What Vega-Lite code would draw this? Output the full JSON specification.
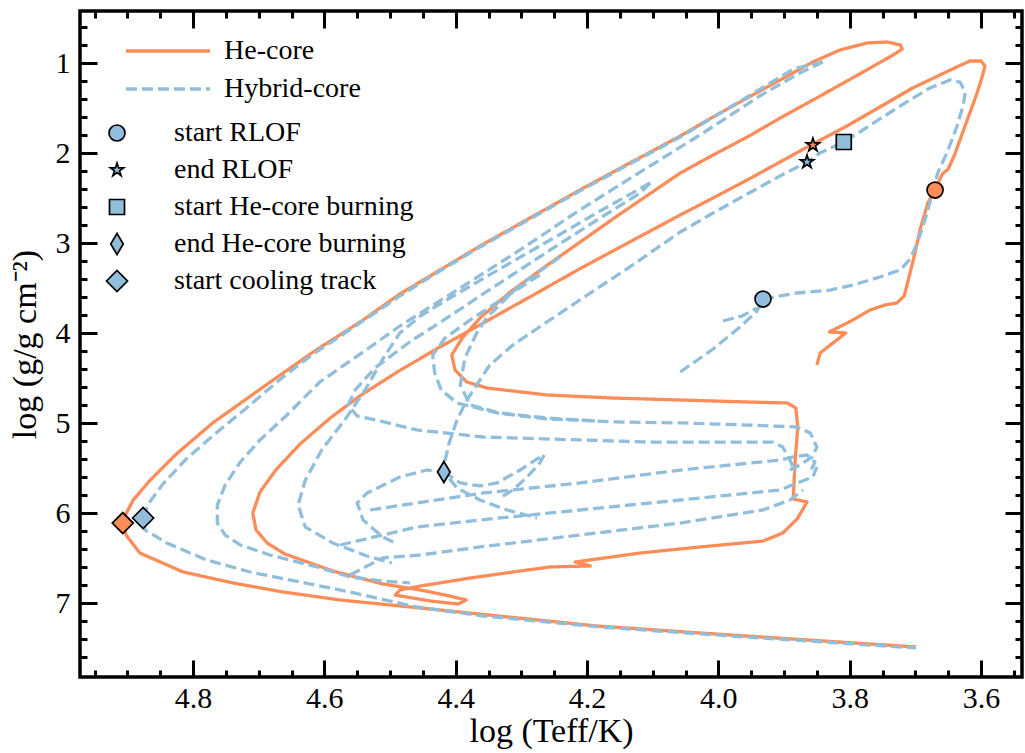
{
"$schema": "https://vega.github.io/schema/vega-lite/v6.json",
"width": 942, "height": 666,
"autosize": {"type": "none"},
"padding": {"left": 80, "top": 11, "right": 3, "bottom": 76},
"background": "white",
"config": {
  "view": {"stroke": "black", "strokeWidth": 3.5},
  "font": "Liberation Serif",
  "axis": {"grid": false, "domain": false, "labelColor": "black", "titleColor": "black", "labelFont": "Liberation Serif", "titleFont": "Liberation Serif", "titleFontWeight": "normal", "labelFlush": false, "labelOverlap": false, "tickColor": "black"},
  "legend": {"labelFont": "Liberation Serif", "labelColor": "black", "labelFontSize": 28, "labelLimit": 600, "padding": 0}
},
"datasets": {
"he": [
{"model":"He-core","seg":"o","i":1,"logT":3.850,"logg":4.350},
{"model":"He-core","seg":"o","i":2,"logT":3.845,"logg":4.217},
{"model":"He-core","seg":"o","i":3,"logT":3.806,"logg":3.994},
{"model":"He-core","seg":"o","i":4,"logT":3.831,"logg":3.983},
{"model":"He-core","seg":"o","i":5,"logT":3.795,"logg":3.850},
{"model":"He-core","seg":"o","i":6,"logT":3.769,"logg":3.739},
{"model":"He-core","seg":"o","i":7,"logT":3.746,"logg":3.683},
{"model":"He-core","seg":"o","i":8,"logT":3.728,"logg":3.661},
{"model":"He-core","seg":"o","i":9,"logT":3.717,"logg":3.583},
{"model":"He-core","seg":"o","i":10,"logT":3.710,"logg":3.383},
{"model":"He-core","seg":"o","i":11,"logT":3.702,"logg":3.150},
{"model":"He-core","seg":"o","i":12,"logT":3.693,"logg":2.850},
{"model":"He-core","seg":"o","i":13,"logT":3.681,"logg":2.550},
{"model":"He-core","seg":"o","i":14,"logT":3.670,"logg":2.406},
{"model":"He-core","seg":"o","i":15,"logT":3.659,"logg":2.228},
{"model":"He-core","seg":"o","i":16,"logT":3.650,"logg":2.172},
{"model":"He-core","seg":"o","i":17,"logT":3.641,"logg":2.028},
{"model":"He-core","seg":"o","i":18,"logT":3.621,"logg":1.628},
{"model":"He-core","seg":"o","i":19,"logT":3.606,"logg":1.328},
{"model":"He-core","seg":"o","i":20,"logT":3.597,"logg":1.117},
{"model":"He-core","seg":"o","i":21,"logT":3.594,"logg":1.028},
{"model":"He-core","seg":"o","i":22,"logT":3.600,"logg":0.972},
{"model":"He-core","seg":"o","i":23,"logT":3.617,"logg":0.972},
{"model":"He-core","seg":"o","i":24,"logT":3.637,"logg":1.039},
{"model":"He-core","seg":"o","i":25,"logT":3.704,"logg":1.272},
{"model":"He-core","seg":"o","i":26,"logT":3.754,"logg":1.483},
{"model":"He-core","seg":"o","i":27,"logT":3.804,"logg":1.694},
{"model":"He-core","seg":"o","i":28,"logT":3.856,"logg":1.894},
{"model":"He-core","seg":"o","i":29,"logT":3.906,"logg":2.094},
{"model":"He-core","seg":"o","i":30,"logT":3.956,"logg":2.294},
{"model":"He-core","seg":"o","i":31,"logT":4.008,"logg":2.494},
{"model":"He-core","seg":"o","i":32,"logT":4.058,"logg":2.683},
{"model":"He-core","seg":"o","i":33,"logT":4.135,"logg":2.983},
{"model":"He-core","seg":"o","i":34,"logT":4.206,"logg":3.261},
{"model":"He-core","seg":"o","i":35,"logT":4.287,"logg":3.594},
{"model":"He-core","seg":"o","i":36,"logT":4.358,"logg":3.883},
{"model":"He-core","seg":"o","i":37,"logT":4.424,"logg":4.150},
{"model":"He-core","seg":"o","i":38,"logT":4.489,"logg":4.428},
{"model":"He-core","seg":"o","i":39,"logT":4.546,"logg":4.694},
{"model":"He-core","seg":"o","i":40,"logT":4.591,"logg":4.939},
{"model":"He-core","seg":"o","i":41,"logT":4.637,"logg":5.228},
{"model":"He-core","seg":"o","i":42,"logT":4.674,"logg":5.517},
{"model":"He-core","seg":"o","i":43,"logT":4.698,"logg":5.761},
{"model":"He-core","seg":"o","i":44,"logT":4.709,"logg":5.994},
{"model":"He-core","seg":"o","i":45,"logT":4.704,"logg":6.183},
{"model":"He-core","seg":"o","i":46,"logT":4.687,"logg":6.328},
{"model":"He-core","seg":"o","i":47,"logT":4.660,"logg":6.450},
{"model":"He-core","seg":"o","i":48,"logT":4.587,"logg":6.639},
{"model":"He-core","seg":"o","i":49,"logT":4.511,"logg":6.783},
{"model":"He-core","seg":"o","i":50,"logT":4.454,"logg":6.850},
{"model":"He-core","seg":"o","i":51,"logT":4.409,"logg":6.917},
{"model":"He-core","seg":"o","i":52,"logT":4.384,"logg":6.961},
{"model":"He-core","seg":"o","i":53,"logT":4.396,"logg":7.006},
{"model":"He-core","seg":"o","i":54,"logT":4.439,"logg":6.972},
{"model":"He-core","seg":"o","i":55,"logT":4.492,"logg":6.906},
{"model":"He-core","seg":"o","i":56,"logT":4.485,"logg":6.850},
{"model":"He-core","seg":"o","i":57,"logT":4.454,"logg":6.806},
{"model":"He-core","seg":"o","i":58,"logT":4.378,"logg":6.717},
{"model":"He-core","seg":"o","i":59,"logT":4.302,"logg":6.639},
{"model":"He-core","seg":"o","i":60,"logT":4.256,"logg":6.594},
{"model":"He-core","seg":"o","i":61,"logT":4.195,"logg":6.583},
{"model":"He-core","seg":"o","i":62,"logT":4.218,"logg":6.539},
{"model":"He-core","seg":"o","i":63,"logT":4.119,"logg":6.439},
{"model":"He-core","seg":"o","i":64,"logT":4.028,"logg":6.372},
{"model":"He-core","seg":"o","i":65,"logT":3.932,"logg":6.306},
{"model":"He-core","seg":"o","i":66,"logT":3.902,"logg":6.217},
{"model":"He-core","seg":"o","i":67,"logT":3.880,"logg":6.061},
{"model":"He-core","seg":"o","i":68,"logT":3.865,"logg":5.872},
{"model":"He-core","seg":"o","i":69,"logT":3.886,"logg":5.839},
{"model":"He-core","seg":"o","i":70,"logT":3.883,"logg":5.406},
{"model":"He-core","seg":"o","i":71,"logT":3.879,"logg":5.039},
{"model":"He-core","seg":"o","i":72,"logT":3.882,"logg":4.828},
{"model":"He-core","seg":"o","i":73,"logT":3.895,"logg":4.772},
{"model":"He-core","seg":"o","i":74,"logT":3.956,"logg":4.761},
{"model":"He-core","seg":"o","i":75,"logT":4.058,"logg":4.739},
{"model":"He-core","seg":"o","i":76,"logT":4.160,"logg":4.717},
{"model":"He-core","seg":"o","i":77,"logT":4.261,"logg":4.683},
{"model":"He-core","seg":"o","i":78,"logT":4.352,"logg":4.606},
{"model":"He-core","seg":"o","i":79,"logT":4.383,"logg":4.539},
{"model":"He-core","seg":"o","i":80,"logT":4.401,"logg":4.406},
{"model":"He-core","seg":"o","i":81,"logT":4.406,"logg":4.239},
{"model":"He-core","seg":"o","i":82,"logT":4.390,"logg":4.050},
{"model":"He-core","seg":"o","i":83,"logT":4.363,"logg":3.828},
{"model":"He-core","seg":"o","i":84,"logT":4.317,"logg":3.539},
{"model":"He-core","seg":"o","i":85,"logT":4.256,"logg":3.217},
{"model":"He-core","seg":"o","i":86,"logT":4.154,"logg":2.694},
{"model":"He-core","seg":"o","i":87,"logT":4.058,"logg":2.217},
{"model":"He-core","seg":"o","i":88,"logT":4.008,"logg":2.017},
{"model":"He-core","seg":"o","i":89,"logT":3.956,"logg":1.817},
{"model":"He-core","seg":"o","i":90,"logT":3.906,"logg":1.606},
{"model":"He-core","seg":"o","i":91,"logT":3.856,"logg":1.406},
{"model":"He-core","seg":"o","i":92,"logT":3.815,"logg":1.239},
{"model":"He-core","seg":"o","i":93,"logT":3.774,"logg":1.072},
{"model":"He-core","seg":"o","i":94,"logT":3.734,"logg":0.906},
{"model":"He-core","seg":"o","i":95,"logT":3.720,"logg":0.839},
{"model":"He-core","seg":"o","i":96,"logT":3.723,"logg":0.794},
{"model":"He-core","seg":"o","i":97,"logT":3.743,"logg":0.761},
{"model":"He-core","seg":"o","i":98,"logT":3.774,"logg":0.772},
{"model":"He-core","seg":"o","i":99,"logT":3.815,"logg":0.850},
{"model":"He-core","seg":"o","i":100,"logT":3.856,"logg":0.983},
{"model":"He-core","seg":"o","i":101,"logT":3.906,"logg":1.183},
{"model":"He-core","seg":"o","i":102,"logT":3.956,"logg":1.383},
{"model":"He-core","seg":"o","i":103,"logT":4.008,"logg":1.594},
{"model":"He-core","seg":"o","i":104,"logT":4.058,"logg":1.806},
{"model":"He-core","seg":"o","i":105,"logT":4.135,"logg":2.106},
{"model":"He-core","seg":"o","i":106,"logT":4.211,"logg":2.406},
{"model":"He-core","seg":"o","i":107,"logT":4.287,"logg":2.717},
{"model":"He-core","seg":"o","i":108,"logT":4.363,"logg":3.028},
{"model":"He-core","seg":"o","i":109,"logT":4.439,"logg":3.361},
{"model":"He-core","seg":"o","i":110,"logT":4.485,"logg":3.561},
{"model":"He-core","seg":"o","i":111,"logT":4.541,"logg":3.850},
{"model":"He-core","seg":"o","i":112,"logT":4.617,"logg":4.206},
{"model":"He-core","seg":"o","i":113,"logT":4.693,"logg":4.594},
{"model":"He-core","seg":"o","i":114,"logT":4.770,"logg":4.994},
{"model":"He-core","seg":"o","i":115,"logT":4.827,"logg":5.350},
{"model":"He-core","seg":"o","i":116,"logT":4.865,"logg":5.628},
{"model":"He-core","seg":"o","i":117,"logT":4.891,"logg":5.850},
{"model":"He-core","seg":"o","i":118,"logT":4.907,"logg":6.072},
{"model":"He-core","seg":"o","i":119,"logT":4.902,"logg":6.239},
{"model":"He-core","seg":"o","i":120,"logT":4.881,"logg":6.439},
{"model":"He-core","seg":"o","i":121,"logT":4.815,"logg":6.650},
{"model":"He-core","seg":"o","i":122,"logT":4.739,"logg":6.772},
{"model":"He-core","seg":"o","i":123,"logT":4.663,"logg":6.872},
{"model":"He-core","seg":"o","i":124,"logT":4.576,"logg":6.961},
{"model":"He-core","seg":"o","i":125,"logT":4.454,"logg":7.050},
{"model":"He-core","seg":"o","i":126,"logT":4.320,"logg":7.150},
{"model":"He-core","seg":"o","i":127,"logT":4.185,"logg":7.250},
{"model":"He-core","seg":"o","i":128,"logT":3.982,"logg":7.350},
{"model":"He-core","seg":"o","i":129,"logT":3.699,"logg":7.483}
],
"hyb": [
{"model":"Hybrid-core","seg":"prog","i":1,"logT":4.058,"logg":4.428},
{"model":"Hybrid-core","seg":"prog","i":2,"logT":4.008,"logg":4.172},
{"model":"Hybrid-core","seg":"prog","i":3,"logT":3.967,"logg":3.928},
{"model":"Hybrid-core","seg":"prog","i":4,"logT":3.941,"logg":3.750},
{"model":"Hybrid-core","seg":"prog","i":5,"logT":3.932,"logg":3.617},
{"model":"Hybrid-core","seg":"hook","i":1,"logT":3.993,"logg":3.861},
{"model":"Hybrid-core","seg":"hook","i":2,"logT":3.964,"logg":3.806},
{"model":"Hybrid-core","seg":"hook","i":3,"logT":3.941,"logg":3.717},
{"model":"Hybrid-core","seg":"main","i":1,"logT":3.932,"logg":3.617},
{"model":"Hybrid-core","seg":"main","i":2,"logT":3.880,"logg":3.550},
{"model":"Hybrid-core","seg":"main","i":3,"logT":3.830,"logg":3.517},
{"model":"Hybrid-core","seg":"main","i":4,"logT":3.795,"logg":3.461},
{"model":"Hybrid-core","seg":"main","i":5,"logT":3.754,"logg":3.372},
{"model":"Hybrid-core","seg":"main","i":6,"logT":3.723,"logg":3.294},
{"model":"Hybrid-core","seg":"main","i":7,"logT":3.708,"logg":3.172},
{"model":"Hybrid-core","seg":"main","i":8,"logT":3.697,"logg":2.994},
{"model":"Hybrid-core","seg":"main","i":9,"logT":3.682,"logg":2.661},
{"model":"Hybrid-core","seg":"main","i":10,"logT":3.673,"logg":2.406},
{"model":"Hybrid-core","seg":"main","i":11,"logT":3.666,"logg":2.217},
{"model":"Hybrid-core","seg":"main","i":12,"logT":3.652,"logg":1.994},
{"model":"Hybrid-core","seg":"main","i":13,"logT":3.637,"logg":1.706},
{"model":"Hybrid-core","seg":"main","i":14,"logT":3.627,"logg":1.461},
{"model":"Hybrid-core","seg":"main","i":15,"logT":3.624,"logg":1.317},
{"model":"Hybrid-core","seg":"main","i":16,"logT":3.632,"logg":1.206},
{"model":"Hybrid-core","seg":"main","i":17,"logT":3.647,"logg":1.183},
{"model":"Hybrid-core","seg":"main","i":18,"logT":3.678,"logg":1.272},
{"model":"Hybrid-core","seg":"main","i":19,"logT":3.728,"logg":1.494},
{"model":"Hybrid-core","seg":"main","i":20,"logT":3.780,"logg":1.739},
{"model":"Hybrid-core","seg":"main","i":21,"logT":3.809,"logg":1.872},
{"model":"Hybrid-core","seg":"main","i":22,"logT":3.845,"logg":1.994},
{"model":"Hybrid-core","seg":"main","i":23,"logT":3.865,"logg":2.094},
{"model":"Hybrid-core","seg":"main","i":24,"logT":3.906,"logg":2.250},
{"model":"Hybrid-core","seg":"main","i":25,"logT":3.956,"logg":2.450},
{"model":"Hybrid-core","seg":"main","i":26,"logT":4.008,"logg":2.661},
{"model":"Hybrid-core","seg":"main","i":27,"logT":4.058,"logg":2.872},
{"model":"Hybrid-core","seg":"main","i":28,"logT":4.135,"logg":3.261},
{"model":"Hybrid-core","seg":"main","i":29,"logT":4.211,"logg":3.628},
{"model":"Hybrid-core","seg":"main","i":30,"logT":4.261,"logg":3.872},
{"model":"Hybrid-core","seg":"main","i":31,"logT":4.313,"logg":4.128},
{"model":"Hybrid-core","seg":"main","i":32,"logT":4.348,"logg":4.350},
{"model":"Hybrid-core","seg":"main","i":33,"logT":4.368,"logg":4.572},
{"model":"Hybrid-core","seg":"main","i":34,"logT":4.383,"logg":4.739},
{"model":"Hybrid-core","seg":"main","i":35,"logT":4.398,"logg":4.961},
{"model":"Hybrid-core","seg":"main","i":36,"logT":4.410,"logg":5.217},
{"model":"Hybrid-core","seg":"main","i":37,"logT":4.416,"logg":5.406},
{"model":"Hybrid-core","seg":"main","i":38,"logT":4.418,"logg":5.539},
{"model":"Hybrid-core","seg":"d1","i":1,"logT":4.418,"logg":5.539},
{"model":"Hybrid-core","seg":"d1","i":2,"logT":4.393,"logg":5.661},
{"model":"Hybrid-core","seg":"d1","i":3,"logT":4.363,"logg":5.694},
{"model":"Hybrid-core","seg":"d1","i":4,"logT":4.337,"logg":5.661},
{"model":"Hybrid-core","seg":"d1","i":5,"logT":4.302,"logg":5.517},
{"model":"Hybrid-core","seg":"d1","i":6,"logT":4.276,"logg":5.394},
{"model":"Hybrid-core","seg":"d1","i":7,"logT":4.265,"logg":5.350},
{"model":"Hybrid-core","seg":"d1","i":8,"logT":4.272,"logg":5.439},
{"model":"Hybrid-core","seg":"d1","i":9,"logT":4.291,"logg":5.594},
{"model":"Hybrid-core","seg":"d1","i":10,"logT":4.313,"logg":5.739},
{"model":"Hybrid-core","seg":"d1","i":11,"logT":4.333,"logg":5.828},
{"model":"Hybrid-core","seg":"d2","i":1,"logT":4.495,"logg":6.317},
{"model":"Hybrid-core","seg":"d2","i":2,"logT":4.511,"logg":6.261},
{"model":"Hybrid-core","seg":"d2","i":3,"logT":4.541,"logg":6.072},
{"model":"Hybrid-core","seg":"d2","i":4,"logT":4.550,"logg":5.883},
{"model":"Hybrid-core","seg":"d2","i":5,"logT":4.535,"logg":5.772},
{"model":"Hybrid-core","seg":"d2","i":6,"logT":4.485,"logg":5.594},
{"model":"Hybrid-core","seg":"d2","i":7,"logT":4.444,"logg":5.517},
{"model":"Hybrid-core","seg":"d2","i":8,"logT":4.418,"logg":5.539},
{"model":"Hybrid-core","seg":"d2","i":9,"logT":4.398,"logg":5.717},
{"model":"Hybrid-core","seg":"d2","i":10,"logT":4.363,"logg":5.850},
{"model":"Hybrid-core","seg":"d2","i":11,"logT":4.322,"logg":5.961},
{"model":"Hybrid-core","seg":"d2","i":12,"logT":4.276,"logg":6.050},
{"model":"Hybrid-core","seg":"outer","i":1,"logT":3.841,"logg":0.983},
{"model":"Hybrid-core","seg":"outer","i":2,"logT":3.886,"logg":1.061},
{"model":"Hybrid-core","seg":"outer","i":3,"logT":3.956,"logg":1.372},
{"model":"Hybrid-core","seg":"outer","i":4,"logT":4.058,"logg":1.817},
{"model":"Hybrid-core","seg":"outer","i":5,"logT":4.135,"logg":2.117},
{"model":"Hybrid-core","seg":"outer","i":6,"logT":4.211,"logg":2.417},
{"model":"Hybrid-core","seg":"outer","i":7,"logT":4.287,"logg":2.728},
{"model":"Hybrid-core","seg":"outer","i":8,"logT":4.363,"logg":3.039},
{"model":"Hybrid-core","seg":"outer","i":9,"logT":4.439,"logg":3.372},
{"model":"Hybrid-core","seg":"outer","i":10,"logT":4.485,"logg":3.583},
{"model":"Hybrid-core","seg":"outer","i":11,"logT":4.541,"logg":3.861},
{"model":"Hybrid-core","seg":"outer","i":12,"logT":4.617,"logg":4.228},
{"model":"Hybrid-core","seg":"outer","i":13,"logT":4.663,"logg":4.483},
{"model":"Hybrid-core","seg":"outer","i":14,"logT":4.713,"logg":4.794},
{"model":"Hybrid-core","seg":"outer","i":15,"logT":4.763,"logg":5.094},
{"model":"Hybrid-core","seg":"outer","i":16,"logT":4.812,"logg":5.406},
{"model":"Hybrid-core","seg":"outer","i":17,"logT":4.847,"logg":5.683},
{"model":"Hybrid-core","seg":"outer","i":18,"logT":4.867,"logg":5.883},
{"model":"Hybrid-core","seg":"outer","i":19,"logT":4.876,"logg":6.039},
{"model":"Hybrid-core","seg":"outer","i":20,"logT":4.873,"logg":6.183},
{"model":"Hybrid-core","seg":"outer","i":21,"logT":4.840,"logg":6.328},
{"model":"Hybrid-core","seg":"outer","i":22,"logT":4.779,"logg":6.517},
{"model":"Hybrid-core","seg":"outer","i":23,"logT":4.713,"logg":6.650},
{"model":"Hybrid-core","seg":"outer","i":24,"logT":4.637,"logg":6.761},
{"model":"Hybrid-core","seg":"outer","i":25,"logT":4.561,"logg":6.872},
{"model":"Hybrid-core","seg":"outer","i":26,"logT":4.459,"logg":7.039},
{"model":"Hybrid-core","seg":"outer","i":27,"logT":4.358,"logg":7.139},
{"model":"Hybrid-core","seg":"outer","i":28,"logT":4.180,"logg":7.261},
{"model":"Hybrid-core","seg":"outer","i":29,"logT":3.982,"logg":7.361},
{"model":"Hybrid-core","seg":"outer","i":30,"logT":3.699,"logg":7.494},
{"model":"Hybrid-core","seg":"tl","i":1,"logT":3.841,"logg":0.983},
{"model":"Hybrid-core","seg":"tl","i":2,"logT":3.876,"logg":1.106},
{"model":"Hybrid-core","seg":"tl","i":3,"logT":3.937,"logg":1.361},
{"model":"Hybrid-core","seg":"tl","i":4,"logT":4.028,"logg":1.794},
{"model":"Hybrid-core","seg":"tl","i":5,"logT":4.119,"logg":2.206},
{"model":"Hybrid-core","seg":"tl","i":6,"logT":4.211,"logg":2.628},
{"model":"Hybrid-core","seg":"tl","i":7,"logT":4.302,"logg":3.072},
{"model":"Hybrid-core","seg":"tl","i":8,"logT":4.393,"logg":3.494},
{"model":"Hybrid-core","seg":"tl","i":9,"logT":4.485,"logg":3.917},
{"model":"Hybrid-core","seg":"tl","i":10,"logT":4.541,"logg":4.206},
{"model":"Hybrid-core","seg":"tl","i":11,"logT":4.607,"logg":4.539},
{"model":"Hybrid-core","seg":"tl","i":12,"logT":4.657,"logg":4.906},
{"model":"Hybrid-core","seg":"tl","i":13,"logT":4.698,"logg":5.183},
{"model":"Hybrid-core","seg":"tl","i":14,"logT":4.728,"logg":5.428},
{"model":"Hybrid-core","seg":"tl","i":15,"logT":4.751,"logg":5.683},
{"model":"Hybrid-core","seg":"tl","i":16,"logT":4.763,"logg":5.906},
{"model":"Hybrid-core","seg":"tl","i":17,"logT":4.763,"logg":6.106},
{"model":"Hybrid-core","seg":"tl","i":18,"logT":4.751,"logg":6.239},
{"model":"Hybrid-core","seg":"tl","i":19,"logT":4.728,"logg":6.350},
{"model":"Hybrid-core","seg":"tl","i":20,"logT":4.683,"logg":6.461},
{"model":"Hybrid-core","seg":"tl","i":21,"logT":4.611,"logg":6.594},
{"model":"Hybrid-core","seg":"tl","i":22,"logT":4.561,"logg":6.706},
{"model":"Hybrid-core","seg":"tl","i":23,"logT":4.511,"logg":6.750},
{"model":"Hybrid-core","seg":"tl","i":24,"logT":4.470,"logg":6.772},
{"model":"Hybrid-core","seg":"c3","i":1,"logT":4.104,"logg":2.328},
{"model":"Hybrid-core","seg":"c3","i":2,"logT":4.180,"logg":2.639},
{"model":"Hybrid-core","seg":"c3","i":3,"logT":4.256,"logg":2.961},
{"model":"Hybrid-core","seg":"c3","i":4,"logT":4.333,"logg":3.283},
{"model":"Hybrid-core","seg":"c3","i":5,"logT":4.409,"logg":3.606},
{"model":"Hybrid-core","seg":"c3","i":6,"logT":4.454,"logg":3.806},
{"model":"Hybrid-core","seg":"c3","i":7,"logT":4.485,"logg":3.994},
{"model":"Hybrid-core","seg":"c3","i":8,"logT":4.512,"logg":4.294},
{"model":"Hybrid-core","seg":"c3","i":9,"logT":4.538,"logg":4.628},
{"model":"Hybrid-core","seg":"c3","i":10,"logT":4.569,"logg":4.961},
{"model":"Hybrid-core","seg":"c3","i":11,"logT":4.604,"logg":5.294},
{"model":"Hybrid-core","seg":"c3","i":12,"logT":4.629,"logg":5.628},
{"model":"Hybrid-core","seg":"c3","i":13,"logT":4.640,"logg":5.906},
{"model":"Hybrid-core","seg":"c3","i":14,"logT":4.629,"logg":6.150},
{"model":"Hybrid-core","seg":"c3","i":15,"logT":4.587,"logg":6.328},
{"model":"Hybrid-core","seg":"c3","i":16,"logT":4.535,"logg":6.472},
{"model":"Hybrid-core","seg":"c3","i":17,"logT":4.497,"logg":6.550},
{"model":"Hybrid-core","seg":"j","i":1,"logT":4.104,"logg":2.328},
{"model":"Hybrid-core","seg":"j","i":2,"logT":4.119,"logg":2.439},
{"model":"Hybrid-core","seg":"j","i":3,"logT":4.180,"logg":2.717},
{"model":"Hybrid-core","seg":"j","i":4,"logT":4.256,"logg":3.072},
{"model":"Hybrid-core","seg":"j","i":5,"logT":4.333,"logg":3.439},
{"model":"Hybrid-core","seg":"j","i":6,"logT":4.409,"logg":3.806},
{"model":"Hybrid-core","seg":"j","i":7,"logT":4.470,"logg":4.094},
{"model":"Hybrid-core","seg":"j","i":8,"logT":4.523,"logg":4.383},
{"model":"Hybrid-core","seg":"j","i":9,"logT":4.553,"logg":4.628},
{"model":"Hybrid-core","seg":"j","i":10,"logT":4.564,"logg":4.794},
{"model":"Hybrid-core","seg":"j","i":11,"logT":4.550,"logg":4.917},
{"model":"Hybrid-core","seg":"j","i":12,"logT":4.515,"logg":4.972},
{"model":"Hybrid-core","seg":"j","i":13,"logT":4.459,"logg":5.072},
{"model":"Hybrid-core","seg":"j","i":14,"logT":4.358,"logg":5.150},
{"model":"Hybrid-core","seg":"j","i":15,"logT":4.211,"logg":5.183},
{"model":"Hybrid-core","seg":"j","i":16,"logT":4.109,"logg":5.206},
{"model":"Hybrid-core","seg":"j","i":17,"logT":4.008,"logg":5.206},
{"model":"Hybrid-core","seg":"j","i":18,"logT":3.917,"logg":5.206},
{"model":"Hybrid-core","seg":"j","i":19,"logT":3.902,"logg":5.261},
{"model":"Hybrid-core","seg":"j","i":20,"logT":3.891,"logg":5.406},
{"model":"Hybrid-core","seg":"j","i":21,"logT":3.883,"logg":5.539},
{"model":"Hybrid-core","seg":"l2a","i":1,"logT":4.241,"logg":3.150},
{"model":"Hybrid-core","seg":"l2a","i":2,"logT":4.302,"logg":3.461},
{"model":"Hybrid-core","seg":"l2a","i":3,"logT":4.352,"logg":3.817},
{"model":"Hybrid-core","seg":"l2a","i":4,"logT":4.368,"logg":3.994},
{"model":"Hybrid-core","seg":"l2a","i":5,"logT":4.386,"logg":4.272},
{"model":"Hybrid-core","seg":"l2a","i":6,"logT":4.393,"logg":4.572},
{"model":"Hybrid-core","seg":"l2a","i":7,"logT":4.378,"logg":4.794},
{"model":"Hybrid-core","seg":"l2a","i":8,"logT":4.333,"logg":4.883},
{"model":"Hybrid-core","seg":"l2a","i":9,"logT":4.261,"logg":4.939},
{"model":"Hybrid-core","seg":"l2a","i":10,"logT":4.160,"logg":4.983},
{"model":"Hybrid-core","seg":"l2a","i":11,"logT":4.058,"logg":4.994},
{"model":"Hybrid-core","seg":"l2a","i":12,"logT":3.956,"logg":5.017},
{"model":"Hybrid-core","seg":"l2a","i":13,"logT":3.880,"logg":5.039},
{"model":"Hybrid-core","seg":"l2a","i":14,"logT":3.860,"logg":5.106},
{"model":"Hybrid-core","seg":"l2a","i":15,"logT":3.850,"logg":5.261},
{"model":"Hybrid-core","seg":"l2a","i":16,"logT":3.857,"logg":5.372},
{"model":"Hybrid-core","seg":"l2a","i":17,"logT":3.876,"logg":5.461},
{"model":"Hybrid-core","seg":"l2a","i":18,"logT":3.891,"logg":5.517},
{"model":"Hybrid-core","seg":"l2b","i":1,"logT":4.272,"logg":3.350},
{"model":"Hybrid-core","seg":"l2b","i":2,"logT":4.317,"logg":3.561},
{"model":"Hybrid-core","seg":"l2b","i":3,"logT":4.378,"logg":3.850},
{"model":"Hybrid-core","seg":"l2b","i":4,"logT":4.416,"logg":4.050},
{"model":"Hybrid-core","seg":"l2b","i":5,"logT":4.435,"logg":4.239},
{"model":"Hybrid-core","seg":"l2b","i":6,"logT":4.432,"logg":4.439},
{"model":"Hybrid-core","seg":"l2b","i":7,"logT":4.422,"logg":4.628},
{"model":"Hybrid-core","seg":"l2b","i":8,"logT":4.398,"logg":4.772},
{"model":"Hybrid-core","seg":"l2b","i":9,"logT":4.337,"logg":4.883},
{"model":"Hybrid-core","seg":"l2b","i":10,"logT":4.261,"logg":4.950},
{"model":"Hybrid-core","seg":"l2b","i":11,"logT":4.180,"logg":4.972},
{"model":"Hybrid-core","seg":"h483","i":1,"logT":4.530,"logg":5.961},
{"model":"Hybrid-core","seg":"h483","i":2,"logT":4.459,"logg":5.883},
{"model":"Hybrid-core","seg":"h483","i":3,"logT":4.358,"logg":5.772},
{"model":"Hybrid-core","seg":"h483","i":4,"logT":4.211,"logg":5.661},
{"model":"Hybrid-core","seg":"h483","i":5,"logT":4.058,"logg":5.517},
{"model":"Hybrid-core","seg":"h483","i":6,"logT":3.906,"logg":5.406},
{"model":"Hybrid-core","seg":"h483","i":7,"logT":3.886,"logg":5.372},
{"model":"Hybrid-core","seg":"h483","i":8,"logT":3.865,"logg":5.350},
{"model":"Hybrid-core","seg":"h483","i":9,"logT":3.853,"logg":5.428},
{"model":"Hybrid-core","seg":"h483","i":10,"logT":3.860,"logg":5.539},
{"model":"Hybrid-core","seg":"h508","i":1,"logT":4.576,"logg":6.350},
{"model":"Hybrid-core","seg":"h508","i":2,"logT":4.511,"logg":6.239},
{"model":"Hybrid-core","seg":"h508","i":3,"logT":4.459,"logg":6.150},
{"model":"Hybrid-core","seg":"h508","i":4,"logT":4.363,"logg":6.072},
{"model":"Hybrid-core","seg":"h508","i":5,"logT":4.211,"logg":5.961},
{"model":"Hybrid-core","seg":"h508","i":6,"logT":4.058,"logg":5.850},
{"model":"Hybrid-core","seg":"h508","i":7,"logT":3.906,"logg":5.739},
{"model":"Hybrid-core","seg":"h508","i":8,"logT":3.876,"logg":5.650},
{"model":"Hybrid-core","seg":"h508","i":9,"logT":3.856,"logg":5.594},
{"model":"Hybrid-core","seg":"h508","i":10,"logT":3.850,"logg":5.483},
{"model":"Hybrid-core","seg":"h530","i":1,"logT":4.561,"logg":6.683},
{"model":"Hybrid-core","seg":"h530","i":2,"logT":4.511,"logg":6.494},
{"model":"Hybrid-core","seg":"h530","i":3,"logT":4.454,"logg":6.461},
{"model":"Hybrid-core","seg":"h530","i":4,"logT":4.363,"logg":6.372},
{"model":"Hybrid-core","seg":"h530","i":5,"logT":4.211,"logg":6.239},
{"model":"Hybrid-core","seg":"h530","i":6,"logT":4.058,"logg":6.106},
{"model":"Hybrid-core","seg":"h530","i":7,"logT":3.932,"logg":5.961},
{"model":"Hybrid-core","seg":"h530","i":8,"logT":3.891,"logg":5.850},
{"model":"Hybrid-core","seg":"h530","i":9,"logT":3.871,"logg":5.739}
],
"events": [
{"model":"He-core","event":"start RLOF","logT":3.670,"logg":2.406},
{"model":"Hybrid-core","event":"start RLOF","logT":3.932,"logg":3.617},
{"model":"He-core","event":"end RLOF","logT":3.856,"logg":1.906},
{"model":"Hybrid-core","event":"end RLOF","logT":3.865,"logg":2.094},
{"model":"Hybrid-core","event":"start He-core burning","logT":3.809,"logg":1.872},
{"model":"Hybrid-core","event":"end He-core burning","logT":4.418,"logg":5.539},
{"model":"He-core","event":"start cooling track","logT":4.907,"logg":6.106},
{"model":"Hybrid-core","event":"start cooling track","logT":4.876,"logg":6.050}
]
},
"resolve": {"axis": {"x": "independent", "y": "independent"}},
"layer": [
{
 "data": {"name": "he"},
 "mark": {"type": "line", "strokeWidth": 3.3, "strokeCap": "butt", "strokeJoin": "round"},
 "encoding": {
  "x": {"field": "logT", "type": "quantitative", "scale": {"domain": [3.5376, 4.9721], "reverse": true, "nice": false, "zero": false},
        "axis": {"orient": "bottom", "values": [3.6, 3.8, 4.0, 4.2, 4.4, 4.6, 4.8], "format": ".1f", "ticks": false, "labelFontSize": 30, "labelPadding": 6, "title": "log (Teff/K)", "titleFontSize": 34, "titlePadding": 1}},
  "y": {"field": "logg", "type": "quantitative", "scale": {"domain": [0.4167, 7.8167], "reverse": true, "nice": false, "zero": false},
        "axis": {"orient": "left", "values": [1, 2, 3, 4, 5, 6, 7], "format": "d", "ticks": false, "labelFontSize": 30, "labelPadding": 10, "title": "log (g/g cm⁻²)", "titleFontSize": 34, "titlePadding": 13}},
  "stroke": {"field": "model", "type": "nominal", "scale": {"domain": ["He-core", "Hybrid-core"], "range": ["#fc8d59", "#91bfdb"]},
        "legend": {"orient": "none", "legendX": 74, "legendY": 26, "title": null, "symbolType": "M-4,0H4", "symbolSize": 441, "symbolStrokeWidth": 3.3, "labelFontSize": 28, "labelOffset": 42, "rowPadding": 10}},
  "strokeDash": {"field": "model", "type": "nominal", "scale": {"domain": ["He-core", "Hybrid-core"], "range": [[1, 0], [11, 5]]},
        "legend": {"orient": "none", "legendX": 74, "legendY": 26, "title": null, "symbolType": "M-4,0H4", "symbolSize": 441, "symbolStrokeWidth": 3.3, "labelFontSize": 28, "labelOffset": 42, "rowPadding": 10}},
  "detail": {"field": "seg"},
  "order": {"field": "i", "type": "quantitative"}
 }
},
{
 "data": {"name": "hyb"},
 "mark": {"type": "line", "strokeWidth": 3.3, "strokeCap": "butt", "strokeJoin": "round"},
 "encoding": {
  "x": {"field": "logT", "type": "quantitative", "scale": {"domain": [3.5376, 4.9721], "reverse": true, "nice": false, "zero": false}, "axis": null},
  "y": {"field": "logg", "type": "quantitative", "scale": {"domain": [0.4167, 7.8167], "reverse": true, "nice": false, "zero": false}, "axis": null},
  "stroke": {"field": "model", "type": "nominal", "scale": {"domain": ["He-core", "Hybrid-core"], "range": ["#fc8d59", "#91bfdb"]},
        "legend": {"orient": "none", "legendX": 74, "legendY": 26, "title": null, "symbolType": "M-4,0H4", "symbolSize": 441, "symbolStrokeWidth": 3.3, "labelFontSize": 28, "labelOffset": 42, "rowPadding": 10}},
  "strokeDash": {"field": "model", "type": "nominal", "scale": {"domain": ["He-core", "Hybrid-core"], "range": [[1, 0], [11, 5]]},
        "legend": {"orient": "none", "legendX": 74, "legendY": 26, "title": null, "symbolType": "M-4,0H4", "symbolSize": 441, "symbolStrokeWidth": 3.3, "labelFontSize": 28, "labelOffset": 42, "rowPadding": 10}},
  "detail": {"field": "seg"},
  "order": {"field": "i", "type": "quantitative"}
 }
},
{
 "data": {"name": "events"},
 "mark": {"type": "point", "filled": true, "stroke": "black", "strokeWidth": 1.7, "opacity": 1},
 "encoding": {
  "x": {"field": "logT", "type": "quantitative", "scale": {"domain": [3.5376, 4.9721], "reverse": true, "nice": false, "zero": false}, "axis": null},
  "y": {"field": "logg", "type": "quantitative", "scale": {"domain": [0.4167, 7.8167], "reverse": true, "nice": false, "zero": false}, "axis": null},
  "fill": {"field": "model", "type": "nominal", "scale": {"domain": ["He-core", "Hybrid-core"], "range": ["#fc8d59", "#91bfdb"]}, "legend": null},
  "shape": {"field": "event", "type": "nominal",
        "scale": {"domain": ["start RLOF", "end RLOF", "start He-core burning", "end He-core burning", "start cooling track"],
                  "range": ["circle", "M0,-1L0.223,-0.307L0.951,-0.309L0.361,0.117L0.588,0.809L0,0.38L-0.588,0.809L-0.361,0.117L-0.951,-0.309L-0.223,-0.307Z", "square", "M0,-1L0.6,0L0,1L-0.6,0Z", "diamond"]},
        "legend": {"orient": "none", "legendX": 23, "legendY": 108, "title": null, "labelFontSize": 28, "labelOffset": 43, "rowPadding": 9, "symbolFillColor": "#91bfdb", "symbolStrokeColor": "black", "symbolStrokeWidth": 1.7,
                   "encode": {"symbols": {"update": {"fill": {"value": "#91bfdb"}, "stroke": {"value": "black"}, "strokeWidth": {"value": 1.7}, "opacity": {"value": 1}}}}}},
  "size": {"field": "event", "type": "nominal",
        "scale": {"type": "ordinal", "domain": ["start RLOF", "end RLOF", "start He-core burning", "end He-core burning", "start cooling track"], "range": [256, 196, 225, 441, 441]},
        "legend": {"orient": "none", "legendX": 23, "legendY": 108, "title": null, "labelFontSize": 28, "labelOffset": 43, "rowPadding": 9, "symbolFillColor": "#91bfdb", "symbolStrokeColor": "black", "symbolStrokeWidth": 1.7,
                   "encode": {"symbols": {"update": {"fill": {"value": "#91bfdb"}, "stroke": {"value": "black"}, "strokeWidth": {"value": 1.7}, "opacity": {"value": 1}}}}}}
 }
},
{
 "data": {"name": "events"},
 "mark": {"type": "point", "opacity": 0},
 "encoding": {
  "x": {"field": "logT", "type": "quantitative", "scale": {"domain": [3.5376, 4.9721], "reverse": true, "nice": false, "zero": false},
        "axis": {"orient": "bottom", "values": [3.6, 3.8, 4.0, 4.2, 4.4, 4.6, 4.8], "labels": false, "ticks": true, "tickSize": -17, "tickWidth": 3, "title": null}},
  "y": {"field": "logg", "type": "quantitative", "scale": {"domain": [0.4167, 7.8167], "reverse": true, "nice": false, "zero": false},
        "axis": {"orient": "left", "values": [1, 2, 3, 4, 5, 6, 7], "labels": false, "ticks": true, "tickSize": -17, "tickWidth": 3, "title": null}}
 }
},
{
 "data": {"name": "events"},
 "mark": {"type": "point", "opacity": 0},
 "encoding": {
  "x": {"field": "logT", "type": "quantitative", "scale": {"domain": [3.5376, 4.9721], "reverse": true, "nice": false, "zero": false},
        "axis": {"orient": "bottom", "values": [3.55, 3.65, 3.7, 3.75, 3.85, 3.9, 3.95, 4.05, 4.1, 4.15, 4.25, 4.3, 4.35, 4.45, 4.5, 4.55, 4.65, 4.7, 4.75, 4.85, 4.9, 4.95], "labels": false, "ticks": true, "tickSize": -7, "tickWidth": 3, "title": null}},
  "y": {"field": "logg", "type": "quantitative", "scale": {"domain": [0.4167, 7.8167], "reverse": true, "nice": false, "zero": false},
        "axis": {"orient": "left", "values": [0.6, 0.8, 1.2, 1.4, 1.6, 1.8, 2.2, 2.4, 2.6, 2.8, 3.2, 3.4, 3.6, 3.8, 4.2, 4.4, 4.6, 4.8, 5.2, 5.4, 5.6, 5.8, 6.2, 6.4, 6.6, 6.8, 7.2, 7.4, 7.6], "labels": false, "ticks": true, "tickSize": -7, "tickWidth": 3, "title": null}}
 }
},
{
 "data": {"name": "events"},
 "mark": {"type": "point", "opacity": 0},
 "encoding": {
  "x": {"field": "logT", "type": "quantitative", "scale": {"domain": [3.5376, 4.9721], "reverse": true, "nice": false, "zero": false},
        "axis": {"orient": "top", "values": [3.6, 3.8, 4.0, 4.2, 4.4, 4.6, 4.8], "labels": false, "ticks": true, "tickSize": -17, "tickWidth": 3, "title": null}},
  "y": {"field": "logg", "type": "quantitative", "scale": {"domain": [0.4167, 7.8167], "reverse": true, "nice": false, "zero": false},
        "axis": {"orient": "right", "values": [1, 2, 3, 4, 5, 6, 7], "labels": false, "ticks": true, "tickSize": -17, "tickWidth": 3, "title": null}}
 }
},
{
 "data": {"name": "events"},
 "mark": {"type": "point", "opacity": 0},
 "encoding": {
  "x": {"field": "logT", "type": "quantitative", "scale": {"domain": [3.5376, 4.9721], "reverse": true, "nice": false, "zero": false},
        "axis": {"orient": "top", "values": [3.55, 3.65, 3.7, 3.75, 3.85, 3.9, 3.95, 4.05, 4.1, 4.15, 4.25, 4.3, 4.35, 4.45, 4.5, 4.55, 4.65, 4.7, 4.75, 4.85, 4.9, 4.95], "labels": false, "ticks": true, "tickSize": -7, "tickWidth": 3, "title": null}},
  "y": {"field": "logg", "type": "quantitative", "scale": {"domain": [0.4167, 7.8167], "reverse": true, "nice": false, "zero": false},
        "axis": {"orient": "right", "values": [0.6, 0.8, 1.2, 1.4, 1.6, 1.8, 2.2, 2.4, 2.6, 2.8, 3.2, 3.4, 3.6, 3.8, 4.2, 4.4, 4.6, 4.8, 5.2, 5.4, 5.6, 5.8, 6.2, 6.4, 6.6, 6.8, 7.2, 7.4, 7.6], "labels": false, "ticks": true, "tickSize": -7, "tickWidth": 3, "title": null}}
 }
}
]
}
